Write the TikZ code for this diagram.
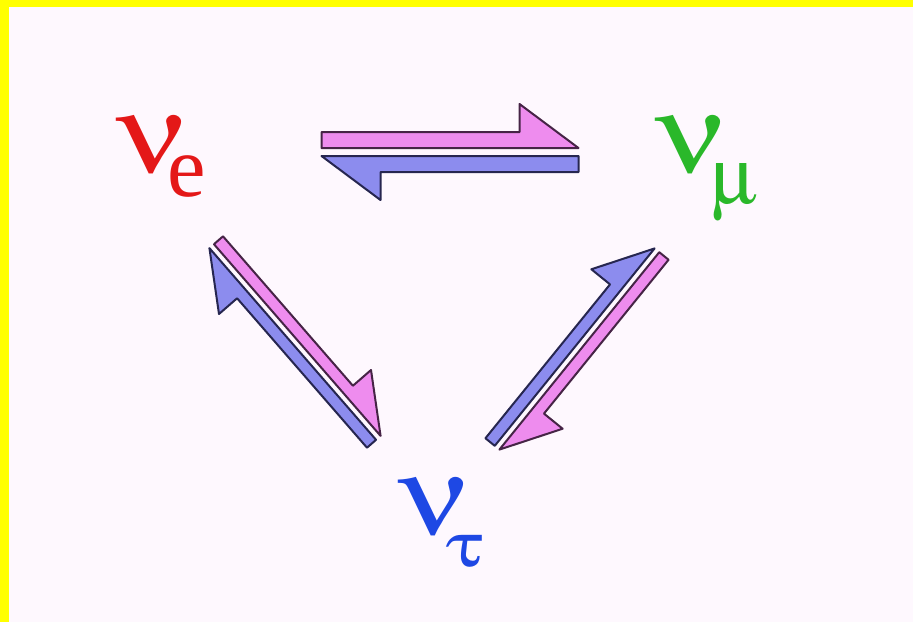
\documentclass[tikz,border=0pt]{standalone}
\usepackage[Symbol]{upgreek}
\usepackage{graphicx}
\usepackage{fontspec}
\setmainfont{Liberation Serif}
\definecolor{frameyellow}{HTML}{FFFF00}
\definecolor{paper}{HTML}{FEF8FE}
\definecolor{pinkfill}{HTML}{EE8CEE}
\definecolor{pinkline}{HTML}{462446}
\definecolor{bluefill}{HTML}{8C8CEE}
\definecolor{blueline}{HTML}{262650}
\definecolor{nured}{HTML}{E41818}
\definecolor{nugreen}{HTML}{2AB82A}
\definecolor{nublue}{HTML}{1E48E4}
\newcommand\bignu{\scalebox{1.15}[0.95]{\fontsize{88}{88}\selectfont$\upnu$}}
\newcommand\nusubE{\fontsize{65}{65}\selectfont}
\newcommand\nusubM{\fontsize{60}{60}\selectfont}
\newcommand\nusubT{\fontsize{55}{55}\selectfont}
\tikzset{
  pinkharp/.style={fill=pinkfill, draw=pinkline, line width=1.5pt, line join=round},
  blueharp/.style={fill=bluefill, draw=blueline, line width=1.5pt, line join=round},
  nulabel/.style={anchor=base west, inner sep=0pt},
}
% #1 options (shift, rotate), #2 length, #3 gap, #4 shaft width, #5 head length, #6 barb
\newcommand\harppair[6]{%
  \begin{scope}[#1]
    \path[pinkharp] (-#2/2,-#3/2) -- (#2/2,-#3/2) -- (#2/2-#5,-#3/2-#4-#6)
      -- (#2/2-#5,-#3/2-#4) -- (-#2/2,-#3/2-#4) -- cycle;
    \path[blueharp] (#2/2,#3/2) -- (-#2/2,#3/2) -- (-#2/2+#5,#3/2+#4+#6)
      -- (-#2/2+#5,#3/2+#4) -- (#2/2,#3/2+#4) -- cycle;
  \end{scope}}
\begin{document}
\begin{tikzpicture}[x=0.75pt,y=-0.75pt]
  \useasboundingbox (0,0) rectangle (913,622);
  \fill[frameyellow] (0,0) rectangle (913,622);
  \fill[paper] (9,7) rectangle (913,622);

  \node[nulabel, text=nured] (nue) at (117,172)
    {\bignu\kern-14.9pt\raisebox{-18pt}{\nusubE e}};
  \node[nulabel, text=nugreen] (numu) at (656,172)
    {\bignu\kern-11.1pt\raisebox{-23.5pt}{\nusubM$\upmu$}};
  \node[nulabel, text=nublue] (nutau) at (399,534)
    {\bignu\kern-18.2pt\raisebox{-24pt}{\scalebox{1.2}[0.85]{\nusubT$\uptau$}}};

  \harppair{shift={(450,152)}}{257}{8}{16}{59}{28}
  \harppair{shift={(295,342)}, rotate=-49}{254}{6}{12}{56}{24}
  \harppair{shift={(577,349)}, rotate=-129}{254}{6}{12}{56}{24}
\end{tikzpicture}
\end{document}
